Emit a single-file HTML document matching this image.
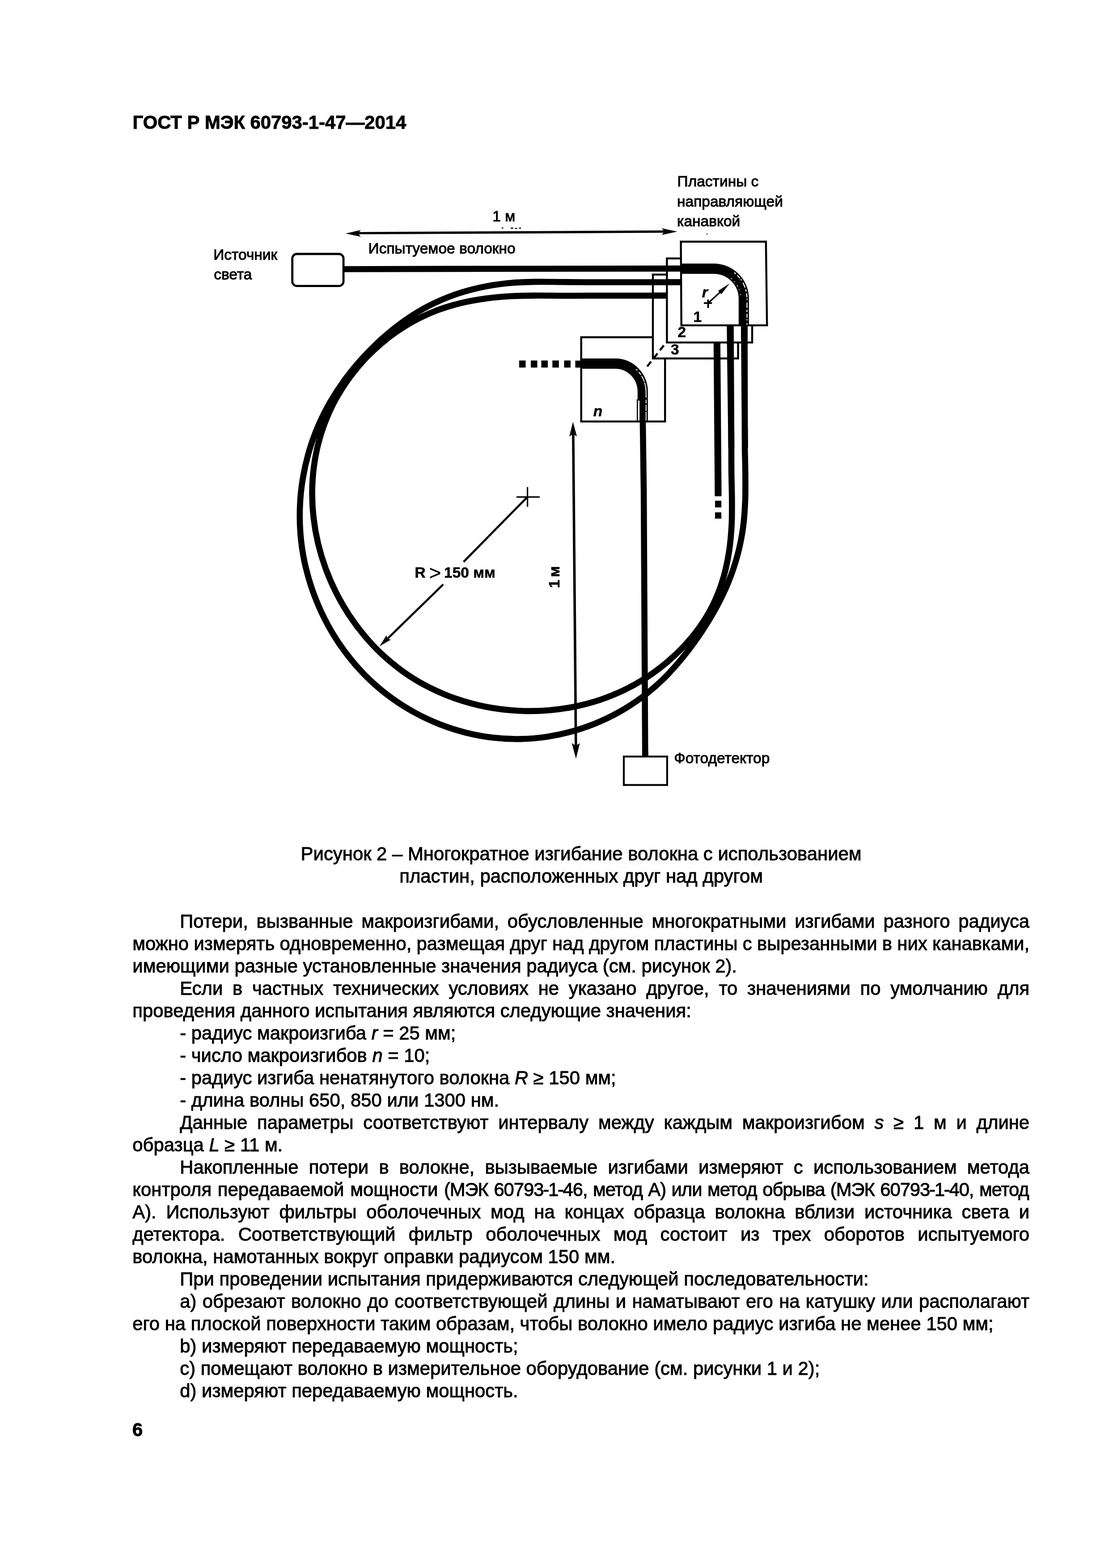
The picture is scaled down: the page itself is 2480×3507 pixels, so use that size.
<!DOCTYPE html>
<html lang="ru">
<head>
<meta charset="utf-8">
<title>ГОСТ Р МЭК 60793-1-47—2014</title>
<style>
html,body{margin:0;padding:0;background:#fff;}
body{width:2480px;height:3507px;position:relative;overflow:hidden;color:#000;
 font-family:"Liberation Sans",sans-serif;-webkit-text-stroke:1px #000;will-change:transform;}
.hdr{position:absolute;left:296.5px;top:248.5px;font-weight:bold;font-size:41.8px;line-height:50px;white-space:nowrap;}
.pgn{position:absolute;left:296px;top:3172.5px;font-weight:bold;font-size:41.8px;line-height:50px;}
.cap{position:absolute;left:296.3px;top:1884.7px;width:2006.6px;text-align:center;font-size:41.86px;line-height:50px;}
.cap div{height:50px;white-space:nowrap;}
.txt{position:absolute;left:296.3px;top:2035.5px;width:2005.8px;font-size:41.8px;line-height:50px;}
.txt div{height:50px;white-space:nowrap;}
.txt div.i{padding-left:106px;}
.txt .a{word-spacing:2.1px;}
.txt .c{letter-spacing:-1.05px;}
.txt .c b{font-weight:normal;margin:0 -1.2px;}
#fig{position:absolute;left:0;top:0;width:2480px;height:3507px;}
#fig text{font-family:"Liberation Sans",sans-serif;fill:#000;font-size:33.5px;stroke:#000;stroke-width:1.1px;paint-order:stroke;}
#fig .b text{font-weight:bold;stroke-width:0.6px;}
</style>
</head>
<body>
<div class="hdr">ГОСТ Р МЭК 60793-1-47—2014</div>
<svg id="fig" viewBox="0 0 2480 3507" width="2480" height="3507">
<g fill="none" stroke="#000" stroke-linejoin="miter">
<rect x="1299.7" y="754.3" width="187.5" height="188.4" fill="#fff" stroke-width="4.4"/>
<path d="M1299,813.3 H1376.5 A61,63 0 0 1 1437.3,876.5 V943" stroke-width="23"/>
<path d="M1437.4,941 L1439.6,1100 L1442.8,1692" stroke-width="13.6"/>
<rect x="1161.0" y="806.3" width="14.5" height="15.8" fill="#000" stroke="none"/>
<rect x="1187.0" y="806.3" width="14.5" height="15.8" fill="#000" stroke="none"/>
<rect x="1210.5" y="806.3" width="14.5" height="15.8" fill="#000" stroke="none"/>
<rect x="1235.3" y="806.3" width="14.5" height="15.8" fill="#000" stroke="none"/>
<rect x="1261.5" y="806.3" width="14.5" height="15.8" fill="#000" stroke="none"/>
<rect x="1286.5" y="806.6" width="14" height="15.6" fill="#000" stroke="none"/>
<rect x="1460" y="614.1" width="190.5" height="187.6" fill="#fff" stroke-width="4.4"/>
<path d="M1635.2,960 L1635.5,1001 L1635.5,1000.1C1635.5,1009.7 1635.4,1038.5 1635.7,1057.8C1635.9,1077.2 1636.7,1096.7 1636.8,1116.2C1636.9,1135.6 1637.1,1155.2 1636.1,1174.6C1635.0,1193.9 1633.5,1213.3 1630.6,1232.3C1627.7,1251.3 1623.9,1270.2 1618.7,1288.6C1613.5,1306.9 1607.1,1325.0 1599.2,1342.3C1591.4,1359.6 1582.0,1376.5 1571.4,1392.5C1560.8,1408.5 1548.7,1423.9 1535.7,1438.4C1522.8,1452.8 1508.6,1466.6 1493.8,1479.2C1478.9,1491.9 1463.1,1503.8 1446.9,1514.5C1430.6,1525.1 1413.6,1534.8 1396.1,1543.2C1378.7,1551.6 1360.7,1558.9 1342.4,1565.1C1324.1,1571.2 1305.3,1576.2 1286.4,1580.1C1267.5,1584.1 1248.2,1586.8 1228.9,1588.5C1209.7,1590.2 1190.2,1590.7 1170.9,1590.2C1151.6,1589.7 1132.2,1588.0 1113.1,1585.3C1094.0,1582.6 1074.9,1578.8 1056.3,1573.9C1037.7,1569.0 1019.2,1563.1 1001.3,1556.0C983.4,1549.0 965.9,1540.9 949.0,1531.8C932.1,1522.7 915.7,1512.5 900.2,1501.2C884.6,1490.0 869.6,1477.7 855.5,1464.6C841.4,1451.4 828.0,1437.3 815.6,1422.5C803.1,1407.6 791.4,1391.9 780.7,1375.7C770.1,1359.5 760.2,1342.5 751.5,1325.1C742.7,1307.7 734.9,1289.7 728.2,1271.4C721.5,1253.2 715.8,1234.4 711.3,1215.5C706.8,1196.6 703.4,1177.3 701.2,1158.1C699.0,1138.9 697.9,1119.4 698.1,1100.2C698.2,1080.9 699.6,1061.5 702.1,1042.5C704.7,1023.5 708.4,1004.5 713.4,986.0C718.4,967.5 724.7,949.1 732.2,931.5C739.6,913.8 748.4,896.4 758.3,879.9C768.2,863.3 779.3,847.2 791.3,832.0C803.3,816.8 816.4,802.2 830.3,788.7C844.2,775.2 859.0,762.5 874.5,750.9C890.0,739.3 906.4,728.7 923.2,719.3C940.0,710.0 957.6,701.8 975.5,694.9C993.4,688.0 1011.9,682.5 1030.6,677.9C1049.3,673.4 1068.5,670.1 1087.6,667.5C1106.8,664.9 1126.3,663.4 1145.7,662.3C1165.1,661.2 1184.5,661.2 1203.9,661.0C1223.3,660.9 1242.7,661.5 1262.1,661.5C1281.4,661.6 1310.3,661.3 1319.9,661.3 L1492,661.2" stroke-width="13.6"/>
<path d="M1625.6,765.0 L1641.0,765.0 L1642.3,1003.0 L1628.7,1003.0 Z" fill="#000" stroke="none"/>
<path d="M1603.3,765 L1606,1110" stroke-width="15.2"/>
<rect x="1599" y="1119.9" width="14.1" height="15" fill="#000" stroke="none"/>
<rect x="1599" y="1145.9" width="14.1" height="14.1" fill="#000" stroke="none"/>
<rect x="1491.4" y="578" width="190.6" height="188" fill="#fff" stroke-width="4.4"/>
<path d="M1459,661.2 H1491" stroke-width="13.6"/>
<path d="M1665.5,960 L1665.8,1001 L1665.5,1000.0C1665.7,1010.3 1666.7,1041.0 1666.8,1061.6C1666.9,1082.2 1667.3,1103.0 1666.3,1123.5C1665.4,1144.1 1664.0,1164.6 1661.0,1184.8C1658.0,1205.0 1653.8,1225.1 1648.4,1244.7C1643.0,1264.4 1636.3,1283.8 1628.6,1302.7C1620.9,1321.7 1611.8,1340.3 1602.1,1358.4C1592.3,1376.5 1581.4,1394.3 1570.0,1411.5C1558.6,1428.7 1546.5,1445.6 1533.7,1461.8C1521.0,1477.9 1507.7,1493.7 1493.4,1508.4C1479.2,1523.1 1464.1,1537.1 1448.2,1549.8C1432.2,1562.6 1415.2,1574.3 1397.7,1584.9C1380.1,1595.5 1361.7,1605.0 1342.9,1613.2C1324.1,1621.4 1304.6,1628.5 1284.9,1634.2C1265.2,1640.0 1245.0,1644.5 1224.8,1647.6C1204.5,1650.8 1183.9,1652.6 1163.4,1652.9C1143.0,1653.3 1122.3,1652.2 1102.0,1649.8C1081.6,1647.4 1061.2,1643.6 1041.4,1638.6C1021.5,1633.6 1001.7,1627.2 982.6,1619.6C963.5,1612.1 944.7,1603.3 926.6,1593.4C908.6,1583.5 891.1,1572.4 874.5,1560.3C857.9,1548.2 842.0,1534.9 827.1,1520.8C812.3,1506.7 798.2,1491.5 785.3,1475.5C772.3,1459.6 760.2,1442.8 749.3,1425.3C738.3,1407.9 728.4,1389.7 719.6,1371.1C710.8,1352.5 703.0,1333.2 696.5,1313.7C690.0,1294.2 684.6,1274.2 680.4,1254.1C676.3,1234.0 673.4,1213.5 671.8,1193.0C670.2,1172.6 669.9,1151.9 670.8,1131.5C671.6,1111.0 673.8,1090.4 677.2,1070.2C680.5,1050.0 685.1,1029.9 690.9,1010.2C696.6,990.6 703.6,971.1 711.7,952.3C719.8,933.5 729.1,915.1 739.4,897.4C749.8,879.6 761.3,862.4 773.6,845.9C785.9,829.3 799.2,813.4 813.2,798.2C827.2,783.0 842.0,768.4 857.5,754.7C873.0,741.0 889.2,728.0 906.0,716.3C922.9,704.5 940.4,693.7 958.5,684.3C976.7,674.9 995.5,666.8 1014.8,659.9C1034.0,653.1 1053.9,647.6 1073.9,643.2C1093.9,638.8 1114.4,635.7 1134.8,633.6C1155.3,631.4 1175.9,630.8 1196.6,630.4C1217.2,629.9 1237.9,630.7 1258.4,630.8C1279.0,631.0 1309.7,631.1 1319.9,631.2 L1524,631.2" stroke-width="13.6"/>
<path d="M1657.0,727.0 L1671.8,727.0 L1672.6,1003.0 L1659.0,1003.0 Z" fill="#000" stroke="none"/>
<path d="M1633.1,727 L1633.3,770" stroke-width="15.4"/>
<path d="M1522.6,540.5 L1712.8,540.5 L1715.2,727.6 L1523.7,727.6 Z" fill="#fff" stroke-width="4.4"/>
<path d="M1490,631.2 H1523" stroke-width="13.6"/>
<path d="M770,602 L1100,601.2 L1523,600.6" stroke-width="13.6"/>
<path d="M1521.5,601 H1596 A67.3,67.3 0 0 1 1663.3,668.3 V729" stroke-width="23"/>
<path d="M1664.3,727 L1664.5,760" stroke-width="14.8"/>
<g fill="none" stroke="#fff">
<path d="M1641.9,609.6 A74.5,74.5 0 0 1 1670.5,668.3 V726" stroke-width="2.2" stroke-dasharray="5 4 9 3 3 6 12 4"/>
<path d="M1634.8,622.1 A60.3,60.3 0 0 1 1655.7,659.9" stroke-width="1.6" stroke-dasharray="3 7 2 9"/>
<path d="M1422.2,825.7 A68.3,68.3 0 0 1 1444.8,876.5 V940.4" stroke-width="2" stroke-dasharray="4 5 8 3 14 2 30 0"/>
<path d="M1428.3,896 V940.4" stroke-width="3.6"/>
<path d="M1425.1,893 V940.6" stroke="#000" stroke-width="2.2"/>
</g>
<rect x="653.7" y="568" width="114.4" height="71.6" rx="10" ry="10" stroke-width="4.8"/>
<rect x="1395" y="1692.1" width="96.9" height="63.6" stroke-width="4.2" fill="#fff"/>
<path d="M1442.7,1680 L1442.8,1692" stroke-width="13.6"/>
<path d="M795,521.5 L1495,517.9" stroke-width="5.2"/>
<path d="M1281.8,965 L1287.9,1675" stroke-width="5.6"/>
<path d="M1179.6,1111.4 L1036.7,1256.7 M991.1,1307.2 L862,1433" stroke-width="4.6"/>
<path d="M1155,1111.6 H1207 M1179.6,1089.3 V1133.6" stroke-width="3.2"/>
<path d="M1574,677.9 H1592.2 M1583.5,670 V688.7" stroke-width="3.8"/>
<path d="M1585,676.5 L1612,652" stroke-width="3.2"/>
<path d="M1484.5,772.5 L1443,825" stroke-width="4.6" stroke-dasharray="14 9"/>
</g>
<g fill="#000" stroke="none">
<polygon points="772.9,522.3 806.9,514.6 800.8,522.1 806.9,529.6"/>
<polygon points="1514.8,517.9 1479.8,525.6 1486.1,518.1 1479.8,510.6"/>
<polygon points="1281.3,943.4 1290.1,976.3 1281.5,970.5 1273.1,976.5"/>
<polygon points="1288.0,1697.0 1278.7,1662.1 1287.7,1668.3 1296.7,1661.9"/>
<polygon points="848.6,1445.6 864.5,1420.4 865.6,1429.0 874.3,1430.4"/>
<polygon points="1631.6,634.0 1613.0,658.1 1609.5,654.2 1605.9,650.4"/>
<path d="M1122,510h3.5M1142,510.3h6M1152,511h4.5M1160.5,510.2h4.5M1580,523.5h2" stroke="#000" stroke-width="2.4" fill="none"/>
</g>
<g class="lb">
<text x="477.2" y="581">Источник</text>
<text x="478.2" y="624.8">света</text>
<text x="1101.3" y="494.8">1 м</text>
<text x="823.6" y="566.9" font-size="33.3">Испытуемое волокно</text>
<text x="1514.6" y="417">Пластины с</text>
<text x="1514" y="461.7">направляющей</text>
<text x="1514" y="506.1">канавкой</text>
<text x="1507.2" y="1706.6" font-size="34.1">Фотодетектор</text>
</g>
<g class="lb b">
<text x="927.4" y="1291.8">R<tspan font-weight="normal" font-size="46" x="959.5" y="1296.5" stroke-width="0.2">&gt;</tspan><tspan x="993" y="1291.8">150 мм</tspan></text>
<text transform="translate(1251,1315.2) rotate(-90)" word-spacing="-3.5">1 м</text>
<text x="1550.5" y="719.6">1</text>
<text x="1515.5" y="753.6">2</text>
<text x="1500" y="793">3</text>
<text x="1569.8" y="664.6" font-style="italic" font-size="32.5">r</text>
<text x="1326.8" y="930.7" font-style="italic" font-size="32">n</text>
</g>
</svg>
<div class="cap">
<div>Рисунок 2 – Многократное изгибание волокна с использованием</div>
<div>пластин, расположенных друг над другом</div>
</div>
<div class="txt">
<div class="i" style="word-spacing:7.175px">Потери, вызванные макроизгибами, обусловленные многократными изгибами разного радиуса</div>
<div style="word-spacing:-0.301px">можно измерять одновременно, размещая друг над другом пластины с вырезанными в них канавками,</div>
<div>имеющими разные установленные значения радиуса (см. рисунок 2).</div>
<div class="i" style="word-spacing:10.140px">Если в частных технических условиях не указано другое, то значениями по умолчанию для</div>
<div>проведения данного испытания являются следующие значения:</div>
<div class="i">- радиус макроизгиба <i>r</i> = 25 мм;</div>
<div class="i">- число макроизгибов <i>n</i> = 10;</div>
<div class="i">- радиус изгиба ненатянутого волокна <i>R</i> ≥ 150 мм;</div>
<div class="i">- длина волны 650, 850 или 1300 нм.</div>
<div class="i" style="word-spacing:10.190px">Данные параметры соответствуют интервалу между каждым макроизгибом <i>s</i> ≥ 1 м и длине</div>
<div>образца <i>L</i> ≥ 11 м.</div>
<div class="i" style="word-spacing:11.627px">Накопленные потери в волокне, вызываемые изгибами измеряют с использованием метода</div>
<div><span class="a">контроля передаваемой мощности </span><span class="c" style="word-spacing:1.943px">(МЭК 60793<b>-</b>1<b>-</b>46, метод А) или метод обрыва (МЭК 60793<b>-</b>1<b>-</b>40, метод</span></div>
<div style="word-spacing:10.136px">А). Используют фильтры оболочечных мод на концах образца волокна вблизи источника света и</div>
<div style="word-spacing:17.775px">детектора. Соответствующий фильтр оболочечных мод состоит из трех оборотов испытуемого</div>
<div>волокна, намотанных вокруг оправки радиусом 150 мм.</div>
<div class="i">При проведении испытания придерживаются следующей последовательности:</div>
<div class="i" style="word-spacing:1.782px">а) обрезают волокно до соответствующей длины и наматывают его на катушку или располагают</div>
<div>его на плоской поверхности таким образам, чтобы волокно имело радиус изгиба не менее 150 мм;</div>
<div class="i">b) измеряют передаваемую мощность;</div>
<div class="i">c) помещают волокно в измерительное оборудование (см. рисунки 1 и 2);</div>
<div class="i">d) измеряют передаваемую мощность.</div>
</div>
<div class="pgn">6</div>
</body>
</html>
